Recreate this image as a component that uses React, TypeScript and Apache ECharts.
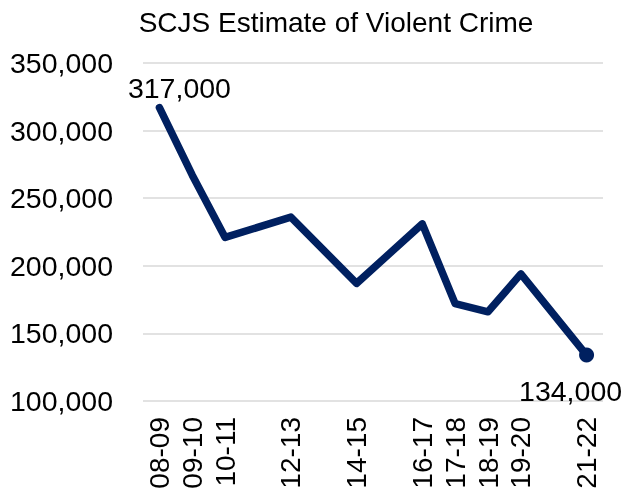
import React, { useEffect, useRef } from "react";
import * as echarts from "echarts";

const categories = ["08-09", "09-10", "10-11", "11-12", "12-13", "13-14", "14-15", "15-16", "16-17", "17-18", "18-19", "19-20", "20-21", "21-22"];
const values: (number | null)[] = [317000, 267000, 221000, null, 236000, null, 187000, null, 231000, 172000, 166000, 194000, null, 134000];
const yTicks = { min: 100000, max: 350000, interval: 50000 };
const titleText = "SCJS Estimate of Violent Crime";

const FONT = "'Liberation Sans', Arial, sans-serif";
const LINE = "#002060";

export default function App() {
  const ref = useRef<HTMLDivElement>(null);
  useEffect(() => {
    if (!ref.current) return;
    const chart = echarts.init(ref.current, undefined, { renderer: "svg" });
    const last = values.length - 1;
    const data = values.map((v, i) => {
      if (v == null) return null;
      const item: any = { value: v, symbolSize: 0 };
      if (i === 0) {
        item.label = { show: true, position: "top", distance: 5, offset: [20, 0] };
      }
      if (i === last) {
        item.symbolSize = 15;
        item.label = { show: true, position: "bottom", distance: 14, offset: [-16, 0] };
      }
      return item;
    });
    chart.setOption({
      animation: false,
      textStyle: { fontFamily: FONT },
      title: {
        text: titleText,
        left: 331,
        textAlign: "center",
        top: 3,
        textStyle: { fontFamily: FONT, fontSize: 28, fontWeight: "normal", color: "#000" },
      },
      grid: { left: 143, right: 22, top: 63, bottom: 98, containLabel: false },
      xAxis: {
        type: "category",
        data: categories,
        boundaryGap: true,
        axisLine: { show: false },
        axisTick: { show: false },
        axisLabel: {
          rotate: 90,
          interval: 0,
          margin: 16,
          fontSize: 28,
          fontFamily: FONT,
          color: "#000",
          formatter: (val: string, idx: number) => (values[idx] == null ? "" : val),
        },
      },
      yAxis: {
        type: "value",
        min: yTicks.min,
        max: yTicks.max,
        interval: yTicks.interval,
        axisLine: { show: false },
        axisTick: { show: false },
        splitLine: { lineStyle: { color: "#d9d9d9", width: 1.5 } },
        axisLabel: {
          margin: 30,
          fontSize: 28.5,
          fontFamily: FONT,
          color: "#000",
          formatter: (v: number) => v.toLocaleString("en-US"),
        },
      },
      series: [
        {
          type: "line",
          data,
          connectNulls: true,
          symbol: "circle",
          showSymbol: true,
          lineStyle: { color: LINE, width: 7.5, cap: "round", join: "round" },
          itemStyle: { color: LINE },
          label: {
            fontSize: 28.5,
            fontFamily: FONT,
            color: "#000",
            formatter: (p: any) => Number(p.value).toLocaleString("en-US"),
          },
        },
      ],
    });
    return () => chart.dispose();
  }, []);
  return <div ref={ref} style={{ position: "fixed", left: 0, top: 0, width: 625, height: 499 }} />;
}
